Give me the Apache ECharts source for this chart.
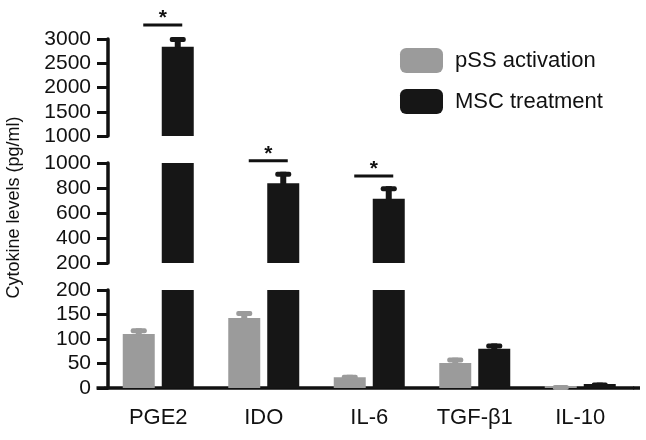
<!DOCTYPE html>
<html><head><meta charset="utf-8">
<script src="https://cdn.jsdelivr.net/npm/echarts@6/dist/echarts.min.js"></script>
<style>html,body{margin:0;padding:0;background:#fff}#c{width:646px;height:440px}</style>
</head><body><div id="c"></div>
<script>
// ---- data ----
const categories = ['PGE2', 'IDO', 'IL-6', 'TGF-β1', 'IL-10'];
const seriesNames = ['pSS activation', 'MSC treatment'];
const pssValues = [110, 143, 22, 51, 4];
const pssErrors = [12, 14, 5, 11, 2];
const mscValues = [2840, 838, 715, 80, 8];
const mscErrors = [200, 92, 100, 11, 3];
// broken y axis: [min, max, interval] for top, middle, bottom segments
const topAxisRange = [1000, 3000, 500];
const midAxisRange = [200, 1000, 200];
const lowAxisRange = [0, 200, 50];
// significance brackets: category index, segment index (0 top,1 mid,2 low), bracket value
const sigCategoryIdx = [0, 1, 2];
const sigSegment = [0, 1, 1];
const sigLineValue = [3290, 1018, 896];
const sigLabel = '*';

// ---- styles ----
const FONT = '"Liberation Sans", Arial, Helvetica, sans-serif';
const INK = '#111111';
const GRAY = '#9b9b9b';
const BLACK = '#161616';
const BAR_W = 32, BAR_GAP = 7;
const OFF = (BAR_W + BAR_GAP) / 2;

const ranges = [topAxisRange, midAxisRange, lowAxisRange];
const gridTops = [39, 163, 290];
const gridHeights = [97, 100, 98];
const GRID_LEFT = 105.5, GRID_W = 527.5;

const grids = ranges.map((r, k) => ({ left: GRID_LEFT, width: GRID_W, top: gridTops[k], height: gridHeights[k] }));

const xAxes = ranges.map((r, k) => ({
  type: 'category', gridIndex: k, data: categories,
  show: k === 2,
  axisLine: { lineStyle: { color: INK, width: 3.5 } },
  axisTick: { alignWithLabel: true, length: 10, lineStyle: { color: INK, width: 3.5 } },
  axisLabel: { color: INK, fontSize: 22, fontFamily: FONT, margin: 19 }
}));

const yAxes = ranges.map((r, k) => ({
  type: 'value', gridIndex: k, min: r[0], max: r[1], interval: r[2],
  offset: -2.5,
  splitLine: { show: false },
  axisLine: { show: true, lineStyle: { color: INK, width: 3.5 } },
  axisTick: { show: true, length: 11, lineStyle: { color: INK, width: 3 } },
  axisLabel: { color: INK, fontSize: 21, fontFamily: FONT, margin: 17, formatter: v => String(v) }
}));

function inSeg(v, k) {
  const r = ranges[k];
  if (k === 0) return v > r[0];
  return v > r[0] && v <= r[1];
}

function errorRender(offset, color) {
  return function (params, api) {
    const c = api.value(0), v = api.value(1), e = api.value(2);
    const base = api.coord([c, v]);
    const top = api.coord([c, v + e]);
    const x = base[0] + offset;
    return {
      type: 'group', children: [
        { type: 'rect', shape: { x: x - 3, y: top[1], width: 6, height: base[1] - top[1] + 1 }, style: { fill: color } },
        { type: 'rect', shape: { x: x - 8, y: top[1], width: 16, height: 5, r: 2 }, style: { fill: color } }
      ]
    };
  };
}

function sigRender(params, api) {
  const c = api.value(0), v = api.value(1);
  const p = api.coord([c, v]);
  const cx = p[0] + 4.5;
  return {
    type: 'group', children: [
      { type: 'line', shape: { x1: cx - 19.5, y1: p[1], x2: cx + 19.5, y2: p[1] }, style: { stroke: INK, lineWidth: 3 } },
      { type: 'text', x: cx, y: p[1] - 7, style: { text: sigLabel, fontSize: 21, fontFamily: FONT, fontWeight: 'bold', fill: INK, align: 'center', verticalAlign: 'middle' } }
    ]
  };
}

const series = [];
ranges.forEach((r, k) => {
  series.push({
    type: 'bar', name: seriesNames[0], xAxisIndex: k, yAxisIndex: k,
    barWidth: BAR_W, barGap: (BAR_GAP / BAR_W * 100) + '%',
    itemStyle: { color: GRAY }, silent: true,
    data: pssValues.map(v => v > r[0] ? v : '-')
  });
  series.push({
    type: 'bar', name: seriesNames[1], xAxisIndex: k, yAxisIndex: k,
    barWidth: BAR_W, barGap: (BAR_GAP / BAR_W * 100) + '%',
    itemStyle: { color: BLACK }, silent: true,
    data: mscValues.map(v => v > r[0] ? v : '-')
  });
});
ranges.forEach((r, k) => {
  series.push({
    type: 'custom', xAxisIndex: k, yAxisIndex: k, silent: true, z: 3,
    renderItem: errorRender(-OFF, GRAY), encode: { x: 0, y: 1 },
    data: pssValues.map((v, i) => [i, v, pssErrors[i]]).filter(d => inSeg(d[1], k))
  });
  series.push({
    type: 'custom', xAxisIndex: k, yAxisIndex: k, silent: true, z: 3,
    renderItem: errorRender(OFF, BLACK), encode: { x: 0, y: 1 },
    data: mscValues.map((v, i) => [i, v, mscErrors[i]]).filter(d => inSeg(d[1], k))
  });
  const sig = sigCategoryIdx.map((c, j) => [c, sigLineValue[j], sigSegment[j]]).filter(d => d[2] === k);
  if (sig.length) series.push({
    type: 'custom', xAxisIndex: k, yAxisIndex: k, silent: true, z: 4, clip: false,
    renderItem: sigRender, encode: { x: 0, y: 1 }, data: sig
  });
});

const titleGraphic = {
  type: 'text', x: 14, y: 207.5, rotation: Math.PI / 2,
  style: { text: 'Cytokine levels (pg/ml)', fontSize: 18, fontFamily: FONT, fill: INK, align: 'center', verticalAlign: 'middle' }
};

const chart = echarts.init(document.getElementById('c'), null, { renderer: 'canvas' });
chart.setOption({
  animation: false,
  backgroundColor: '#ffffff',
  textStyle: { fontFamily: FONT },
  grid: grids, xAxis: xAxes, yAxis: yAxes,
  legend: {
    data: seriesNames.map(n => ({ name: n, icon: 'roundRect' })),
    orient: 'vertical', left: 395, top: 43,
    itemWidth: 43, itemHeight: 25, itemGap: 16,
    textStyle: { fontSize: 22, color: INK, fontFamily: FONT, padding: [0, 0, 0, 7] },
    selectedMode: false
  },
  graphic: [titleGraphic],
  series: series
});

// extend the baseline slightly beyond the plot on both sides, as in the reference
const y0 = chart.convertToPixel({ yAxisIndex: 2 }, lowAxisRange[0]);
chart.setOption({
  graphic: [titleGraphic, {
    type: 'line', silent: true,
    shape: { x1: GRID_LEFT - 9, y1: y0, x2: GRID_LEFT, y2: y0 },
    style: { stroke: INK, lineWidth: 3.5 }
  }, {
    type: 'line', silent: true,
    shape: { x1: GRID_LEFT + GRID_W, y1: y0, x2: GRID_LEFT + GRID_W + 7, y2: y0 },
    style: { stroke: INK, lineWidth: 3.5 }
  }]
});
</script></body></html>
